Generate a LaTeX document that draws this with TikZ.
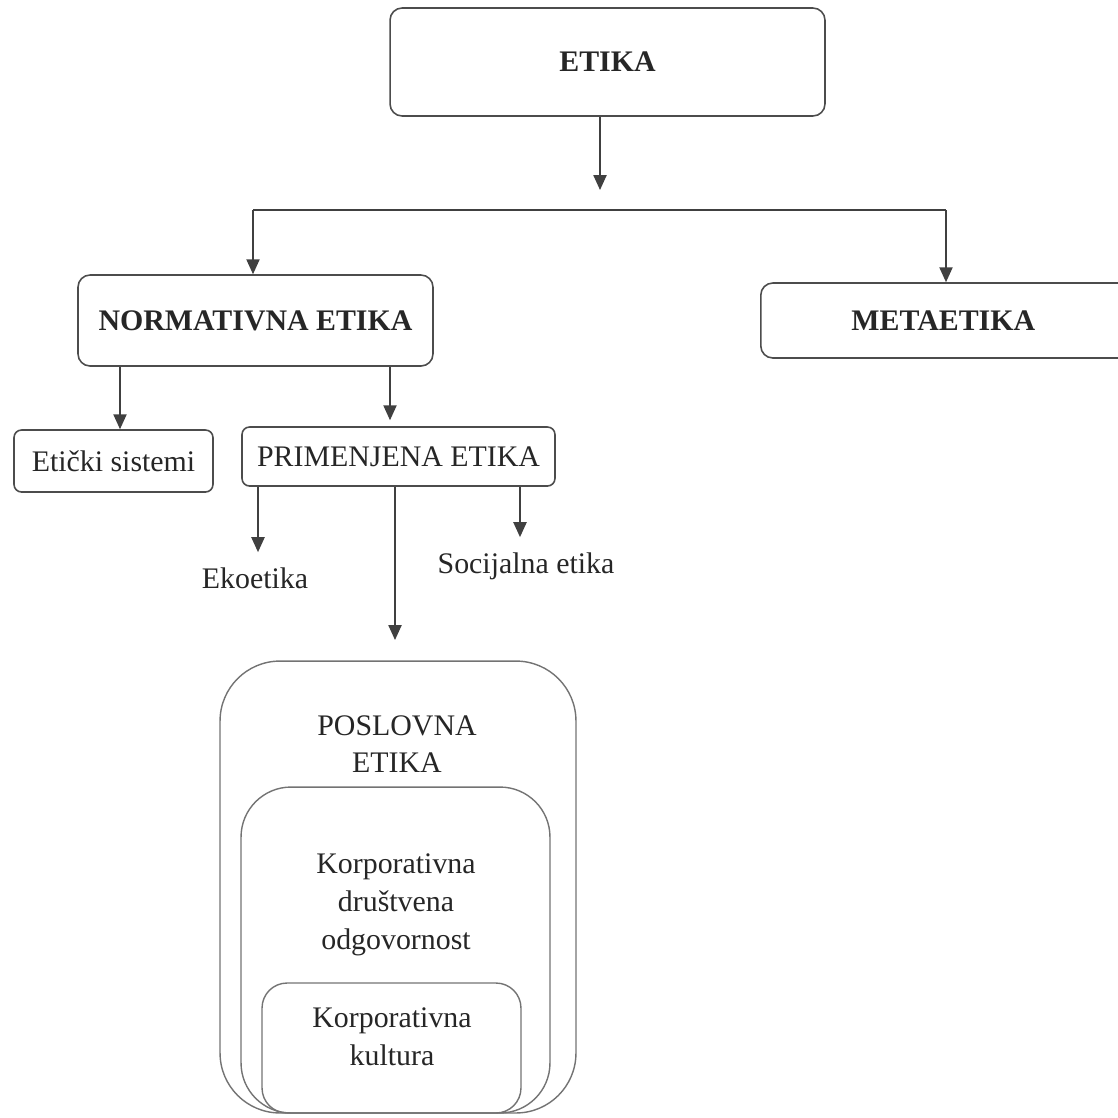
\documentclass[tikz,border=0pt]{standalone}
\usepackage{fontspec}
\setmainfont{Liberation Serif}
\usetikzlibrary{arrows.meta}
\begin{document}
\begin{tikzpicture}[x=0.02cm,y=-0.02cm,
  every node/.style={font=\fontsize{17}{21.5}\selectfont, text=black!85},
  box/.style={draw=black!70, line width=0.9pt, rounded corners=0.24cm, inner sep=0pt, align=center},
  bbox/.style={box, font=\fontsize{17}{21.5}\selectfont\bfseries},
  nest/.style={draw=black!55, line width=0.8pt, inner sep=0pt},
  lbl/.style={align=center, inner sep=0pt},
  arr/.style={draw=black!75, line width=0.9pt, -{Triangle[width=7.5pt,length=8.5pt]}},
  ln/.style={draw=black!75, line width=0.9pt}]
\useasboundingbox (0,0) rectangle (1118,1117);
% top
\node[bbox, minimum width=8.7cm, minimum height=2.16cm] (etika) at (607.5,62) {ETIKA};
\coordinate (split) at (600,190);
\coordinate (hl) at (253,210);
\coordinate (hr) at (946,210);
\draw[arr] (etika.south -| split) -- (split);
\draw[ln] (hl) -- (hr);
% second level
\node[bbox, minimum width=7.1cm, minimum height=1.82cm] (norm) at (255.5,320.5) {NORMATIVNA ETIKA};
\node[bbox, anchor=west, minimum width=7.6cm, minimum height=1.5cm] (meta) at (760,320.5) {\hspace*{-0.3cm}METAETIKA};
\draw[arr] (hl) -- (hl |- norm.north);
\draw[arr] (hr) -- (hr |- meta.north);
% third level
\node[box, font=\fontsize{17}{21.5}\selectfont, minimum width=3.98cm, minimum height=1.24cm, rounded corners=0.15cm] (sist) at (113.5,461) {Etički sistemi};
\node[box, font=\fontsize{17}{21.5}\selectfont, minimum width=6.26cm, minimum height=1.18cm, rounded corners=0.15cm] (prim) at (398.5,456.5) {PRIMENJENA ETIKA};
\coordinate (a1) at (120,0);
\coordinate (a2) at (390,0);
\draw[arr] (norm.south -| a1) -- (sist.north -| a1);
\draw[arr] (norm.south -| a2) -- ([yshift=0.12cm]prim.north -| a2);
% fourth level
\node[lbl] (eko) at (255,578) {Ekoetika};
\node[lbl] (soc) at (526,566) {Socijalna etika};
\coordinate (b1) at (258,0);
\coordinate (b2) at (395,0);
\coordinate (b3) at (520,0);
\coordinate (pt) at (395,640);
\draw[arr] (prim.south -| b1) -- ([yshift=0.3cm]eko.north -| b1);
\draw[arr] (prim.south -| b2) -- (pt);
\draw[arr] (prim.south -| b3) -- ([yshift=0.3cm]soc.north -| b3);
% nested boxes
\node[nest, rounded corners=1.2cm, minimum width=7.12cm, minimum height=9.04cm] (posl) at (398,887) {};
\node[nest, rounded corners=1.0cm, minimum width=6.18cm, minimum height=6.52cm] (kdo) at (395.5,950) {};
\node[nest, rounded corners=0.5cm, minimum width=5.18cm, minimum height=2.6cm] (kk) at (391.5,1048) {};
\node[lbl] (poslt) at (397,744) {POSLOVNA\\ETIKA};
\node[lbl] (kdot) at (396,905) {Korporativna\\društvena\\odgovornost};
\node[lbl] (kkt) at (392,1037) {Korporativna\\kultura};
\end{tikzpicture}
\end{document}
